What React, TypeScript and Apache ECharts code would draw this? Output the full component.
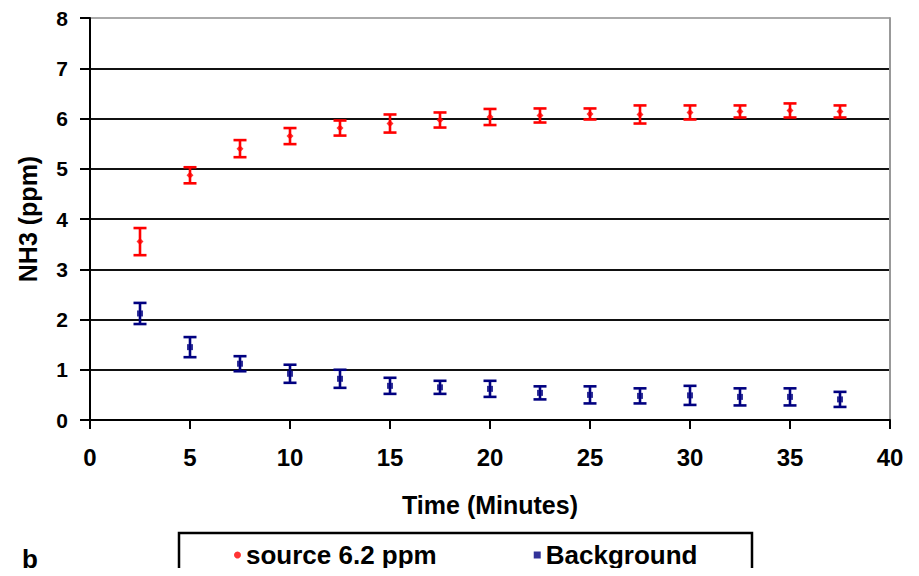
import React, { useEffect, useRef } from "react";
import * as echarts from "echarts";

const times = [2.5, 5, 7.5, 10, 12.5, 15, 17.5, 20, 22.5, 25, 27.5, 30, 32.5, 35, 37.5];
const sourceValues = [3.55, 4.87, 5.4, 5.65, 5.81, 5.9, 5.97, 6.03, 6.06, 6.09, 6.08, 6.12, 6.14, 6.16, 6.14];
const sourceErrors = [0.27, 0.16, 0.17, 0.16, 0.15, 0.18, 0.15, 0.16, 0.14, 0.11, 0.18, 0.14, 0.12, 0.14, 0.12];
const backgroundValues = [2.12, 1.45, 1.12, 0.92, 0.82, 0.68, 0.65, 0.62, 0.54, 0.5, 0.48, 0.49, 0.46, 0.46, 0.41];
const backgroundErrors = [0.21, 0.2, 0.15, 0.18, 0.18, 0.16, 0.13, 0.16, 0.13, 0.17, 0.15, 0.19, 0.17, 0.17, 0.15];

const SOURCE_NAME = "source 6.2 ppm";
const BG_NAME = "Background";
const RED = "#ff0000";
const NAVY = "#000080";
const FONT = "'Liberation Sans', Arial, sans-serif";

function errorSeries(name: string, values: number[], errors: number[], color: string) {
  return {
    type: "custom",
    name,
    data: times.map((t, i) => [t, values[i] - errors[i], values[i] + errors[i]]),
    renderItem: (_params: any, api: any) => {
      const x = api.value(0);
      const lo = api.coord([x, api.value(1)]);
      const hi = api.coord([x, api.value(2)]);
      const hw = 6.5;
      const style = { stroke: color, lineWidth: 2.6 };
      return {
        type: "group",
        children: [
          { type: "line", shape: { x1: lo[0], y1: lo[1], x2: hi[0], y2: hi[1] }, style },
          { type: "line", shape: { x1: lo[0] - hw, y1: lo[1], x2: lo[0] + hw, y2: lo[1] }, style },
          { type: "line", shape: { x1: hi[0] - hw, y1: hi[1], x2: hi[0] + hw, y2: hi[1] }, style },
        ],
      };
    },
    silent: true,
    z: 3,
  };
}

export default function App() {
  const ref = useRef<HTMLDivElement>(null);
  useEffect(() => {
    if (!ref.current) return;
    const chart = echarts.init(ref.current, undefined, { renderer: "svg" });
    chart.setOption({
      animation: false,
      backgroundColor: "#ffffff",
      textStyle: { fontFamily: FONT },
      grid: { left: 90, right: 29, top: 18, bottom: 156, containLabel: false },
      xAxis: {
        type: "value",
        min: 0,
        max: 40,
        interval: 5,
        name: "Time (Minutes)",
        nameLocation: "middle",
        nameGap: 72,
        nameTextStyle: { fontSize: 25, fontWeight: "bold", color: "#000", fontFamily: FONT },
        axisLine: { lineStyle: { color: "#000", width: 2 } },
        axisTick: { show: true, inside: false, length: 9, lineStyle: { color: "#000", width: 2 } },
        axisLabel: { fontSize: 24, fontWeight: "bold", color: "#000", margin: 25, fontFamily: FONT },
        splitLine: { show: false },
      },
      yAxis: [
        {
          type: "value",
          min: 0,
          max: 8,
          interval: 1,
          name: "NH3 (ppm)",
          nameLocation: "middle",
          nameGap: 50,
          nameTextStyle: { fontSize: 25, fontWeight: "bold", color: "#000", fontFamily: FONT },
          axisLine: { show: true, lineStyle: { color: "#000", width: 2 } },
          axisTick: { show: true, inside: false, length: 10, lineStyle: { color: "#000", width: 2 } },
          axisLabel: { fontSize: 21, fontWeight: "bold", color: "#000", margin: 22, fontFamily: FONT },
          splitLine: {
            show: true,
            lineStyle: {
              color: ["#000", "#111", "#111", "#111", "#111", "#111", "#111", "#111", "#aaa"],
              width: 2,
            },
          },
        },
        {
          type: "value",
          min: 0,
          max: 8,
          interval: 1,
          position: "right",
          axisLine: { show: true, lineStyle: { color: "#999", width: 2 } },
          axisTick: { show: false },
          axisLabel: { show: false },
          splitLine: { show: false },
        },
      ],
      legend: {
        data: [
          { name: SOURCE_NAME, icon: "circle" },
          { name: BG_NAME, icon: "rect" },
        ],
        left: 229,
        top: 537,
        itemWidth: 7,
        itemHeight: 7,
        itemGap: 97,
        textStyle: { fontSize: 26, fontWeight: "bold", color: "#000", fontFamily: FONT },
      },
      graphic: [
        {
          type: "rect",
          shape: { x: 179, y: 533, width: 573, height: 60 },
          style: { fill: "none", stroke: "#000", lineWidth: 2.5 },
          silent: true,
        },
        {
          type: "text",
          left: 22,
          top: 546,
          style: { text: "b", fontSize: 26, fontWeight: "bold", fill: "#000", fontFamily: FONT },
        },
      ],
      series: [
        errorSeries("source-err", sourceValues, sourceErrors, RED),
        errorSeries("background-err", backgroundValues, backgroundErrors, NAVY),
        {
          type: "scatter",
          name: SOURCE_NAME,
          data: times.map((t, i) => [t, sourceValues[i]]),
          symbol: "diamond",
          symbolSize: 7,
          itemStyle: { color: RED },
          z: 4,
        },
        {
          type: "scatter",
          name: BG_NAME,
          data: times.map((t, i) => [t, backgroundValues[i]]),
          symbol: "rect",
          symbolSize: 6,
          itemStyle: { color: NAVY },
          z: 4,
        },
      ],
    });
    return () => chart.dispose();
  }, []);
  return <div ref={ref} style={{ width: 919, height: 576, margin: -8 }} />;
}
